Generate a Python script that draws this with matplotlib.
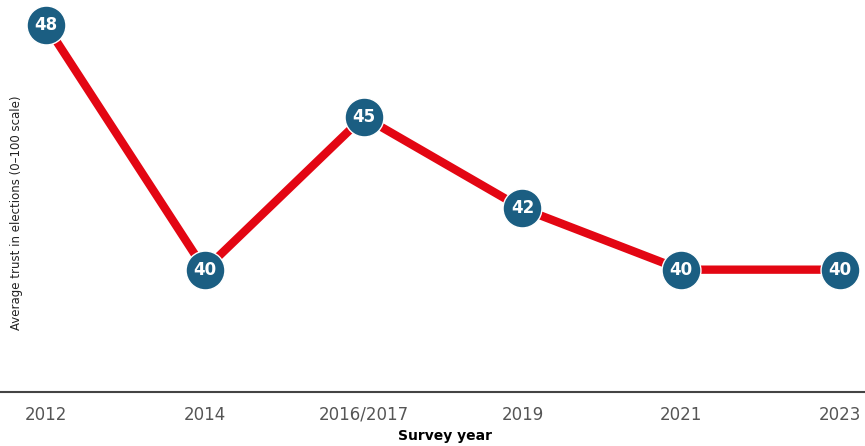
import matplotlib.pyplot as plt

years = ["2012", "2014", "2016/2017", "2019", "2021", "2023"]
trust = [48, 40, 45, 42, 40, 40]

fig = plt.figure(figsize=(8.65, 4.46), dpi=100)
ax = fig.add_axes([0, 54 / 446, 1, 392 / 446])

x = list(range(len(years)))
ax.plot(x, trust, color="#e30613", linewidth=6, zorder=2, solid_capstyle="butt")
ax.plot(x, trust, linestyle="none", marker="o", markersize=28,
        markerfacecolor="#1b5e82", markeredgecolor="white", markeredgewidth=1, zorder=3)
for xi, v in zip(x, trust):
    ax.text(xi, v, str(v), color="white", fontsize=12, fontweight="bold",
            ha="center", va="center", zorder=4)

ax.set_xlim(-46 / 159, 5 + 25 / 159)
ax.set_ylim(36, 48 + 25 / 30.6)

ax.set_xticks(x)
ax.set_xticklabels(years, fontsize=12, color="#555555")
ax.tick_params(axis="x", length=0, pad=10)
ax.set_yticks([])
for s in ["top", "right", "left"]:
    ax.spines[s].set_visible(False)
ax.spines["bottom"].set_color("#444444")
ax.spines["bottom"].set_linewidth(1.5)

fig.text(445 / 865, 1 - 436 / 446, "Survey year", fontsize=10, fontweight="bold",
         ha="center", va="center")
fig.text(17 / 865, 1 - 213 / 446, "Average trust in elections (0\u2013100 scale)",
         fontsize=8.5, rotation=90, ha="center", va="center", color="#222222")

fig.savefig("out.png", dpi=100)
